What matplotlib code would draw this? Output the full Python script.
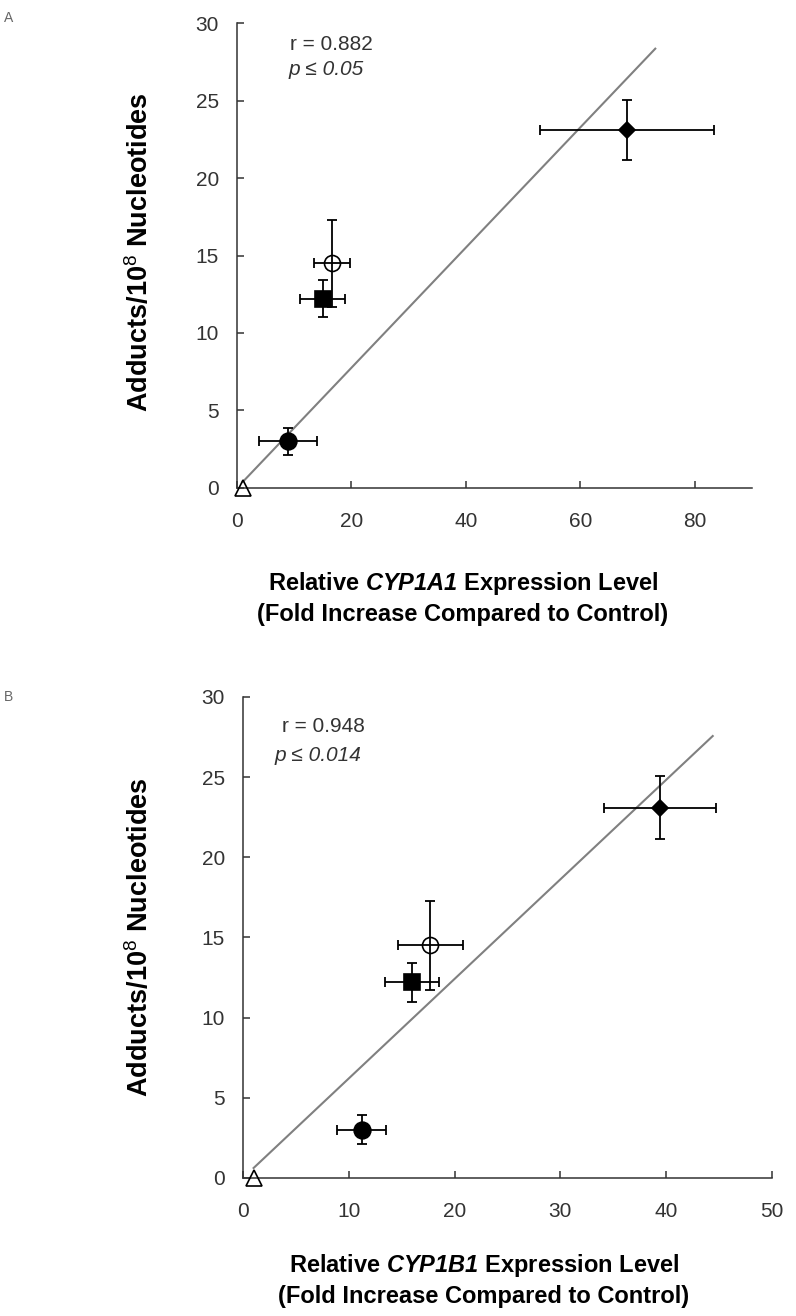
import numpy as np
import matplotlib
matplotlib.use('Agg')
import matplotlib.pyplot as plt

plt.rcParams['font.family'] = ['Liberation Sans', 'DejaVu Sans']
plt.rcParams['mathtext.fontset'] = 'custom'
plt.rcParams['mathtext.rm'] = 'Liberation Sans'
plt.rcParams['mathtext.bf'] = 'Liberation Sans:bold'
# gene names: bold italic, digits included (the "it" slot keeps digits upright)
plt.rcParams['mathtext.sf'] = 'Liberation Sans:italic:bold'

# one entry per treatment group
markers = ['^', 'o', 's', 'o', 'D']
filled = [False, True, True, False, True]
marker_sizes = [11, 12, 12, 11.5, 8]

# DNA adducts per 10^8 nucleotides (same in both panels)
adducts = [0.0, 3.0, 12.2, 14.5, 23.1]
adducts_err = [0.0, 0.9, 1.2, 2.8, 1.95]

# panel A: relative CYP1A1 expression
cyp1a1 = [1.0, 8.9, 15.0, 16.6, 68.1]
cyp1a1_err = [0.0, 5.0, 3.9, 3.2, 15.2]

# panel B: relative CYP1B1 expression
cyp1b1 = [1.0, 11.2, 16.0, 17.7, 39.4]
cyp1b1_err = [0.0, 2.3, 2.55, 3.05, 5.3]

stats_a = ['r = 0.882', 'p ≤ 0.05']
stats_b = ['r = 0.948', 'p ≤ 0.014']

ylabel = 'Adducts/10$^{8}$ Nucleotides'
xlabel_a = 'Relative $\\mathsf{CYP1A1}$ Expression Level\n(Fold Increase Compared to Control)'
xlabel_b = 'Relative $\\mathsf{CYP1B1}$ Expression Level\n(Fold Increase Compared to Control)'

txt = '#333333'

fig = plt.figure(figsize=(7.96, 13.16), dpi=100)


def panel(ax, x, xerr, xmax, xticks, stats, stat_pos):
    x = np.array(x)
    y = np.array(adducts)
    # linear trendline forced through the origin, extended 5 units forward
    slope = np.sum(x * y) / np.sum(x * x)
    xs = np.array([x.min(), x.max() + 5])
    ax.plot(xs, slope * xs, color='#808080', lw=1.5, zorder=1)

    for i in range(len(x)):
        if xerr[i] > 0 or adducts_err[i] > 0:
            ax.errorbar(x[i], y[i], xerr=xerr[i], yerr=adducts_err[i], fmt='none',
                        ecolor='black', elinewidth=1.3, capsize=3.3, capthick=1.3, zorder=2)
        ax.plot(x[i], y[i], marker=markers[i], ms=marker_sizes[i], ls='none',
                mfc='black' if filled[i] else 'none', mec='black', mew=1.2,
                zorder=3, clip_on=False)

    ax.set_xlim(0, xmax)
    ax.set_ylim(0, 30)
    ax.set_xticks(xticks)
    ax.set_yticks(range(0, 31, 5))
    for s in ['top', 'right']:
        ax.spines[s].set_visible(False)
    for s in ['left', 'bottom']:
        ax.spines[s].set_color(txt)
        ax.spines[s].set_linewidth(1.1)
    ax.tick_params(direction='in', length=5, width=1.1, color=txt,
                   labelsize=15, labelcolor=txt)
    ax.tick_params(axis='y', pad=13)
    ax.tick_params(axis='x', pad=17)

    ax.text(stat_pos[0][0], stat_pos[0][1], stats[0], transform=ax.transAxes,
            fontsize=15, color=txt, va='center', ha='left')
    ax.text(stat_pos[1][0], stat_pos[1][1], stats[1], transform=ax.transAxes,
            fontsize=15, color=txt, va='center', ha='left', style='italic')


ax_a = fig.add_axes([0.2977, 0.6292, 0.6470, 0.3533])
panel(ax_a, cyp1a1, cyp1a1_err, 90, [0, 20, 40, 60, 80], stats_a,
      [(0.103, 0.953), (0.101, 0.899)])

ax_b = fig.add_axes([0.3053, 0.1049, 0.6645, 0.3655])
panel(ax_b, cyp1b1, cyp1b1_err, 50, [0, 10, 20, 30, 40, 50], stats_b,
      [(0.074, 0.938), (0.060, 0.879)])

fig.text(0.176, 0.8085, ylabel, rotation=90, fontsize=19.5, fontweight='bold',
         ha='center', va='center')
fig.text(0.176, 0.288, ylabel, rotation=90, fontsize=19.5, fontweight='bold',
         ha='center', va='center')
fig.text(0.5817, 0.5456, xlabel_a, fontsize=17, fontweight='bold',
         ha='center', va='center', linespacing=1.35)
fig.text(0.608, 0.0274, xlabel_b, fontsize=17, fontweight='bold',
         ha='center', va='center', linespacing=1.35)

fig.text(0.005, 0.992, 'A', fontsize=10, color='#666666', ha='left', va='top')
fig.text(0.005, 0.476, 'B', fontsize=10, color='#666666', ha='left', va='top')

fig.savefig('out.png', dpi=100)
